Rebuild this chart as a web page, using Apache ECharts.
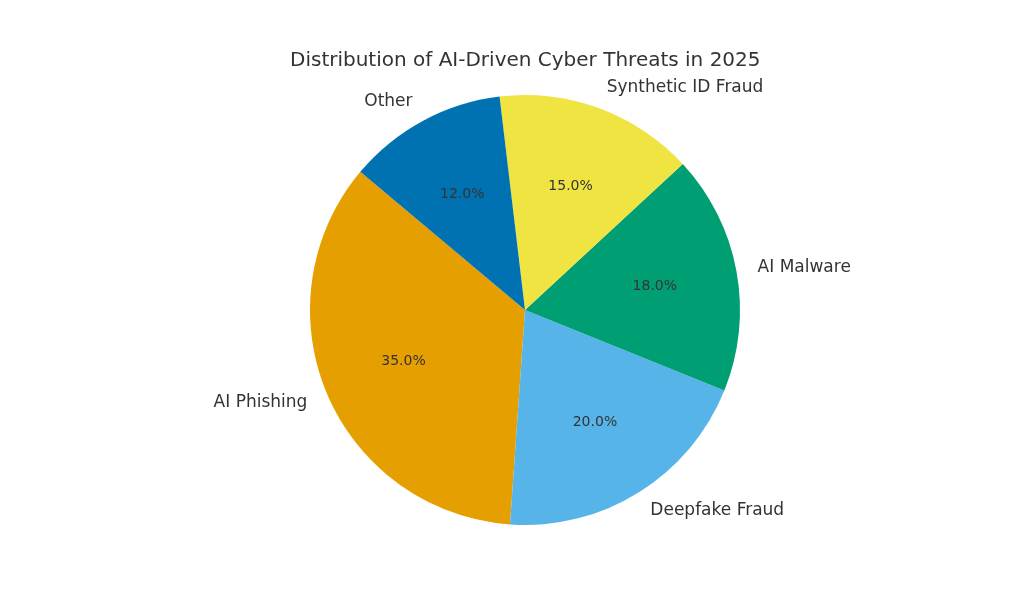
<!DOCTYPE html>
<html>
<head>
<meta charset="utf-8">
<script src="https://cdn.jsdelivr.net/npm/echarts@6/dist/echarts.min.js"></script>
<style>html,body{margin:0;padding:0;background:#fff;}#c{width:1024px;height:614px;}</style>
</head>
<body>
<div id="c"></div>
<script>
const titleText = 'Distribution of AI-Driven Cyber Threats in 2025';
const categories = ['AI Phishing', 'Deepfake Fraud', 'AI Malware', 'Synthetic ID Fraud', 'Other'];
const values = [35, 20, 18, 15, 12];
const colors = ['#E69F00', '#56B4E9', '#009E73', '#F0E442', '#0072B2'];

const START = 140;
const total = values.reduce((a, b) => a + b, 0);

const font = '"DejaVu Sans", Verdana, sans-serif';
const center = [525, 310];
const R = 215;

const chart = echarts.init(document.getElementById('c'), null, {renderer: 'canvas'});
chart.setOption({
  backgroundColor: '#fff',
  animation: false,
  title: {
    text: titleText, left: 285, top: 46,
    textStyle: {fontFamily: font, fontSize: 20, fontWeight: 'normal', color: '#333'}
  },
  series: [
    {
      type: 'pie', center: center, radius: [0, R], startAngle: START, clockwise: false,
      silent: true, avoidLabelOverlap: false,
      label: {
        show: true, position: 'outside', formatter: '{b}', distanceToLabelLine: 0,
        fontFamily: font, fontSize: 17, color: '#333'
      },
      labelLine: {show: false, length: R * 0.1, length2: 0},
      data: categories.map((n, i) => ({name: n, value: values[i], itemStyle: {color: colors[i]}}))
    },
    {
      type: 'pie', center: center, radius: [0, R * 1.2], startAngle: START, clockwise: false,
      silent: true, itemStyle: {color: 'transparent'}, labelLine: {show: false},
      label: {
        show: true, position: 'inside', rotate: 0,
        formatter: p => (p.value / total * 100).toFixed(1) + '%',
        fontFamily: font, fontSize: 14, color: '#333'
      },
      data: categories.map((n, i) => ({name: n, value: values[i]}))
    }
  ]
});
</script>
</body>
</html>
